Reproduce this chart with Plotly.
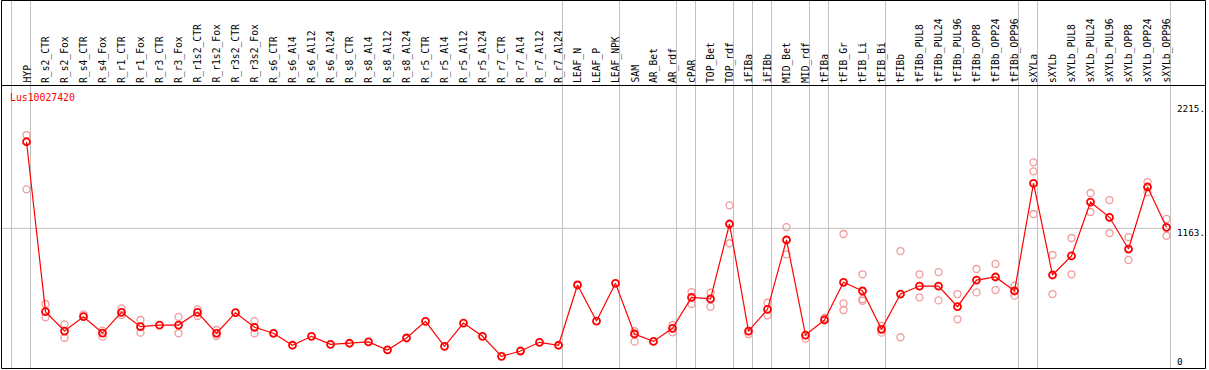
import plotly.graph_objects as go

categories = ["HYP", "R_s2_CTR", "R_s2_Fox", "R_s4_CTR", "R_s4_Fox", "R_r1_CTR", "R_r1_Fox",
              "R_r3_CTR", "R_r3_Fox", "R_r1s2_CTR", "R_r1s2_Fox", "R_r3s2_CTR", "R_r3s2_Fox",
              "R_s6_CTR", "R_s6_Al4", "R_s6_Al12", "R_s6_Al24", "R_s8_CTR", "R_s8_Al4",
              "R_s8_Al12", "R_s8_Al24", "R_r5_CTR", "R_r5_Al4", "R_r5_Al12", "R_r5_Al24",
              "R_r7_CTR", "R_r7_Al4", "R_r7_Al12", "R_r7_Al24", "LEAF_N", "LEAF_P", "LEAF_NPK",
              "SAM", "AR_Bet", "AR_rdf", "cPAR", "TOP_Bet", "TOP_rdf", "iFIBa", "iFIBb",
              "MID_Bet", "MID_rdf", "tFIBa", "tFIB_Gr", "tFIB_Li", "tFIB_Bi", "tFIBb",
              "tFIBb_PUL8", "tFIBb_PUL24", "tFIBb_PUL96", "tFIBb_OPP8", "tFIBb_OPP24",
              "tFIBb_OPP96", "sXYLa", "sXYLb", "sXYLb_PUL8", "sXYLb_PUL24", "sXYLb_PUL96",
              "sXYLb_OPP8", "sXYLb_OPP24", "sXYLb_OPP96"]

mean_values = [1900, 454, 289, 411, 272, 448, 326, 340, 340, 448, 270, 445, 321,
               270, 168, 244, 176, 185, 196, 128, 230, 372, 159, 357, 244,
               74, 119, 193, 168, 681, 374, 695,
               264, 201, 312, 576, 562, 1200, 289, 474, 1064, 255,
               383, 704, 630, 304, 604, 672, 672, 496, 723, 749, 630,
               1546, 766, 928, 1387, 1257, 987, 1515, 1172]

rep_a = [1957, 519, 346, 431, 292, 482, 383, None, 409, 474, 298, None, 374,
         None, None, None, None, None, None, None, None, None, None, None, None,
         None, None, None, None, None, None, None,
         289, None, 340, 621, 615, 1359, None, 530, 1174, None,
         400, 1115, 772, 332, 970, 772, 791, 604, 817, 860, 675,
         1725, 936, 1081, 1464, 1404, 1089, 1557, 1243]

rep_b = [1495, 406, 232, None, 241, 425, 275, None, 270, 417, 247, None, 270,
         None, None, None, None, None, None, None, None, None, None, None, None,
         None, None, None, None, None, None, None,
         199, None, 278, 519, 496, 1036, 264, 423, 942, 224,
         None, 525, 562, 275, 236, 576, 550, 389, 618, 638, 590,
         1285, 604, 772, 1302, 1123, 894, 1470, 1100]

rep_c = [None] * 43 + [468, 547] + [None] * 8 + [1648] + [None] * 7

group_breaks = [0, 1, 29, 32, 35, 36, 38, 39, 40, 42, 43, 46, 53, 54, 61]

y_tick_values = [2215, 1163, 0]
y_tick_labels = ["2215.", "1163.", "0"]
gene_name = "Lus10027420"

W, H = 1209, 370
X0PX, XSTEP = 26.5, 19.0          # pixel of first category, pixel step
Y0PX, PPU = 365.0, 0.1175          # pixel of value 0, pixels per unit

x_range = [-X0PX / XSTEP, (W - X0PX) / XSTEP]
y_range = [(Y0PX - H) / PPU, Y0PX / PPU]


def px_x(p):
    return p / W


def px_y(p):
    return 1 - p / H


def val_to_px(v):
    return Y0PX - v * PPU


xs = list(range(len(categories)))
fig = go.Figure()

for reps in (rep_a, rep_b, rep_c):
    fig.add_trace(go.Scatter(
        x=xs, y=reps, mode="markers",
        marker=dict(symbol="circle-open", size=7, color="#f09a9a",
                    line=dict(width=1.3, color="#f09a9a")),
        hoverinfo="skip", showlegend=False))

fig.add_trace(go.Scatter(
    x=xs, y=mean_values, mode="lines+markers",
    line=dict(color="#ff0000", width=1.2),
    marker=dict(symbol="circle-open", size=7, color="#ff0000",
                line=dict(width=1.8, color="#ff0000")),
    text=categories, showlegend=False))

shapes = []
# group separators
for k in group_breaks:
    xv = k - 15.0 / XSTEP
    shapes.append(dict(type="line", xref="x", yref="paper", x0=xv, x1=xv,
                       y0=px_y(369), y1=px_y(0), layer="below",
                       line=dict(color="#c0c0c0", width=1)))
# gridline at 1163
gy = px_y(val_to_px(1163))
shapes.append(dict(type="line", xref="paper", yref="paper", x0=px_x(1.5), x1=px_x(1170.5),
                   y0=gy, y1=gy, layer="below", line=dict(color="#c0c0c0", width=1)))
# frame
frame = [(1.5, 0.5, 1205.5, 0.5), (1.5, 85.5, 1205.5, 85.5), (1.5, 368.5, 1205.5, 368.5),
         (1.5, 0.5, 1.5, 368.5), (1205.5, 0.5, 1205.5, 368.5)]
for (a, b, c, d) in frame:
    shapes.append(dict(type="line", xref="paper", yref="paper", x0=px_x(a), x1=px_x(c),
                       y0=px_y(b), y1=px_y(d), line=dict(color="black", width=1)))

annotations = []
for i, c in enumerate(categories):
    annotations.append(dict(x=i, y=px_y(85), xref="x", yref="paper", text=c,
                            textangle=-90, showarrow=False, xanchor="center", yanchor="bottom",
                            font=dict(family="DejaVu Sans Mono", size=9.7, color="black")))
annotations.append(dict(x=px_x(8), y=px_y(97), xref="paper", yref="paper", text=gene_name,
                        showarrow=False, xanchor="left", yanchor="middle",
                        font=dict(family="DejaVu Sans Mono", size=9.8, color="#ff0000")))
tick_centers = [108, 232, 361.5]
for v, lab, cy in zip(y_tick_values, y_tick_labels, tick_centers):
    annotations.append(dict(x=px_x(1175), y=px_y(cy), xref="paper", yref="paper", text=lab,
                            showarrow=False, xanchor="left", yanchor="middle",
                            font=dict(family="DejaVu Sans Mono", size=9.3, color="black")))

fig.update_layout(
    width=W, height=H, autosize=False,
    margin=dict(l=0, r=0, t=0, b=0, pad=0),
    paper_bgcolor="white", plot_bgcolor="white",
    xaxis=dict(range=x_range, visible=False, fixedrange=True),
    yaxis=dict(range=y_range, visible=False, fixedrange=True),
    shapes=shapes, annotations=annotations,
)

fig.write_html("out.html",
               config={"displayModeBar": False},
               post_script="document.body.style.margin='0px';document.body.style.overflow='hidden';")
